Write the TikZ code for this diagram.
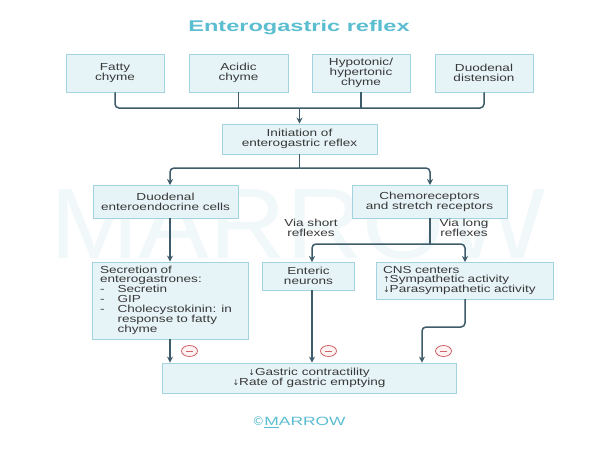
\documentclass[tikz,border=0pt]{standalone}
\usepackage{fontspec}
\setmainfont{Liberation Sans}[FakeStretch=1.33]
\newfontfamily\titlefont{Liberation Sans}[FakeStretch=1.52]
\newfontfamily\footfont{Liberation Sans}[FakeStretch=1.45]
\newfontfamily\wmfont{Liberation Sans}[FakeStretch=1.06]
\newfontfamily\arrfont{DejaVu Sans}
\usetikzlibrary{arrows.meta,shapes.geometric}
\definecolor{linec}{HTML}{3E5B69}
\definecolor{boxfill}{HTML}{E7F4F7}
\definecolor{boxdraw}{HTML}{A3D3DE}
\definecolor{titlec}{HTML}{5BBDD0}
\definecolor{minusc}{HTML}{D0646A}
\definecolor{wmark}{HTML}{F0F8FA}
\definecolor{txtc}{HTML}{383838}
\newcommand{\upa}{{\arrfont\fontsize{8}{9}\selectfont↑}}
\newcommand{\dna}{{\arrfont\fontsize{8}{9}\selectfont↓}}
\begin{document}
\begin{tikzpicture}[x=1pt,y=-1pt,
  box/.style={draw=boxdraw, fill=boxfill, line width=0.9pt, inner sep=0pt, align=center,
    font=\fontsize{10.2}{10}\selectfont, text=txtc},
  conn/.style={draw=linec, line width=1.5pt},
  arr/.style={conn, -{Stealth[length=6pt,width=6pt]}},
  minusnode/.style={ellipse, draw=minusc, fill=red!5, line width=0.8pt, minimum width=16pt, minimum height=11pt, inner sep=0pt},
  lbl/.style={font=\fontsize{10.2}{10.5}\selectfont, text=txtc, align=center, inner sep=0pt}]
\fill[white] (0,0) rectangle (600,451);
\useasboundingbox (0,0) rectangle (600,451);
% watermark
\node[text=wmark, font=\wmfont\fontsize{100}{100}\selectfont, inner sep=0pt] (wm) at (298,224) {MARROW};
% title
\node[text=titlec, font=\titlefont\bfseries\fontsize{15.5}{17}\selectfont, inner sep=0pt] (title) at (299,28) {Enterogastric reflex};
% top boxes
\node[box, minimum width=98pt, minimum height=38pt] (f1) at (115,73) {Fatty\\chyme};
\node[box, minimum width=99pt, minimum height=38pt] (f2) at (238.5,73) {Acidic\\chyme};
\node[box, minimum width=98pt, minimum height=38pt] (f3) at (361,73) {Hypotonic/\\hypertonic\\chyme};
\node[box, minimum width=98pt, minimum height=38pt] (f4) at (484,73) {Duodenal\\distension};
\node[box, minimum width=155pt, minimum height=30pt] (init) at (299.5,139) {Initiation of\\enterogastric reflex};
\node[box, minimum width=145pt, minimum height=33pt] (duo) at (165.5,201.5) {Duodenal\\enteroendocrine cells};
\node[box, minimum width=155pt, minimum height=33pt] (chemo) at (429.5,201.5) {Chemoreceptors\\and stretch receptors};
\node[box, minimum width=156pt, minimum height=77pt, text width=140pt, align=left, font=\fontsize{10.2}{9.4}\selectfont] (sec) at (170,300.5) {%
\renewcommand{\arraystretch}{0.94}%
\begin{tabular}{@{}l@{\hspace{13pt}}l@{}}
\multicolumn{2}{@{}l@{}}{Secretion of}\\
\multicolumn{2}{@{}l@{}}{enterogastrones:}\\
- & Secretin\\
- & GIP\\
- & Cholecystokinin: in\\
  & response to fatty\\
  & chyme
\end{tabular}};
\node[box, minimum width=92pt, minimum height=28pt] (ent) at (308.5,276) {Enteric\\neurons};
\node[box, minimum width=177pt, minimum height=37pt, text width=163pt, align=left, font=\fontsize{10.2}{9.2}\selectfont] (cns) at (464.5,280.5) {CNS centers\\\upa Sympathetic activity\\\dna Parasympathetic activity};
\node[box, minimum width=294pt, minimum height=30pt] (bot) at (309,378) {\dna Gastric contractility\\\dna Rate of gastric emptying};
% labels
\node[lbl] (vs) at (311,228) {Via short\\reflexes};
\node[lbl] (vl) at (464,228) {Via long\\reflexes};
% connectors top
\coordinate (j1) at (299.5,108);
\draw[conn, rounded corners=4pt] (f1.south) |- (j1) -| (f4.south);
\draw[conn] (f2.south) -- (f2.south |- j1);
\draw[conn] (f3.south) -- (f3.south |- j1);
\draw[arr] (j1) -- (init.north);
\coordinate (j2) at (299.5,168);
\coordinate (duoin) at (170,185);
\coordinate (chemoin) at (430,185);
\draw[conn] (init.south) -- (j2);
\draw[arr, rounded corners=4pt] (j2) -| (duoin);
\draw[arr, rounded corners=4pt] (j2) -| (chemoin);
\draw[arr] (sec.north |- duo.south) -- (sec.north);
\coordinate (j3) at (430,244);
\coordinate (cnsin) at (465,262);
\coordinate (entin) at (312,262);
\draw[conn] (chemo.south -| j3) -- (j3);
\draw[arr, rounded corners=4pt] (j3) -| (entin);
\draw[arr, rounded corners=4pt] (j3) -| (cnsin);
% to bottom
\draw[arr] (sec.south) -- (sec.south |- bot.north);
\draw[arr] (ent.south -| entin) -- (entin |- bot.north);
\coordinate (cnsout) at (465,299);
\coordinate (bend) at (422,327);
\draw[arr, rounded corners=4pt] (cnsout) |- (bend) -- (bend |- bot.north);
% minus signs
\foreach \n/\x in {m1/189.5, m2/328.5, m3/443.5}{
  \node[minusnode] (\n) at (\x,351) {};
  \draw[minusc, line width=0.9pt] ([xshift=-3.5pt]\n.center) -- ([xshift=3.5pt]\n.center);
}
% footer
\node[text=titlec, font=\footfont\fontsize{12}{14}\selectfont, inner sep=0pt] (copy) at (299,422) {{\arrfont ©}\underline{M}ARROW};
\end{tikzpicture}
\end{document}
